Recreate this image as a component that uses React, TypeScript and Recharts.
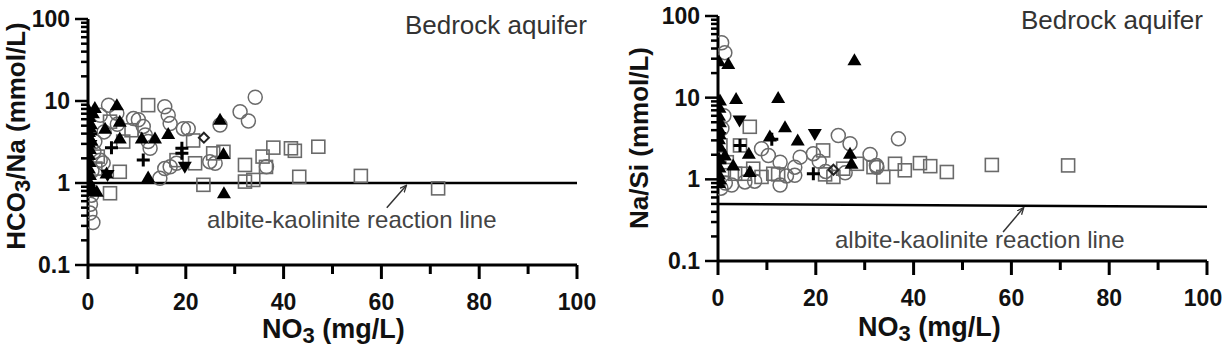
import { ScatterChart, Scatter, XAxis, YAxis, ReferenceLine } from "recharts";

type Pt = { x: number; y: number };
const pts = (a: number[][]): Pt[] => a.map(([x, y]) => ({ x, y }));

// tick values
const xTicks = [0, 10, 20, 30, 40, 50, 60, 70, 80, 90, 100];
const xMajor = [0, 20, 40, 60, 80, 100];
const yTicks = [
  0.1, 0.2, 0.3, 0.4, 0.5, 0.6, 0.7, 0.8, 0.9, 1, 2, 3, 4, 5, 6, 7, 8, 9, 10, 20,
  30, 40, 50, 60, 70, 80, 90, 100,
];
const yMajor = [0.1, 1, 10, 100];

// left panel: HCO3/Na vs NO3
const leftCircles = pts([
  [34.2, 11.1], [31.1, 7.4], [32.8, 5.7], [27, 5.1], [15.7, 8.5], [16.4, 6.7], [16.8, 5.3],
  [9.3, 6.1], [10.3, 5.9], [19.5, 4.6], [20.5, 4.6], [4.2, 8.9], [11.7, 3.85], [12.3, 3.2],
  [12.7, 2.65], [11.3, 4.9], [14.7, 1.14], [15.7, 1.5], [16.8, 1.58], [18.1, 1.74],
  [24.9, 1.82], [26, 1.74], [36.5, 1.58], [2.5, 1.9], [3.1, 1.75], [1.4, 3.2], [0.4, 0.43],
  [1, 0.33], [0.75, 0.71], [5.9, 7.1], [2.5, 6.7], [3.3, 4.2], [1.2, 2.4], [0.8, 1.4],
  [0.5, 0.55], [6, 5.2],
]);
const leftSquares = pts([
  [12.3, 8.9], [8.9, 4.4], [6.5, 1.37], [4.5, 0.75], [7.2, 3.2], [21.5, 3.3], [21.9, 1.74],
  [23.6, 0.95], [25.6, 2.3], [27.7, 2.4], [32.1, 1.66], [32.1, 1.04], [33.8, 1.09],
  [35.7, 2.1], [36.4, 1.57], [37.9, 2.7], [41.5, 2.65], [42.3, 2.47], [47.1, 2.77],
  [43.2, 1.19], [55.8, 1.22], [71.6, 0.86], [18.1, 1.9], [4.5, 5.6], [2, 2.1], [1.5, 1.5],
]);
const leftTriUp = pts([
  [5.9, 8.9], [3.5, 4.6], [6.5, 5.6], [6.5, 3.5], [11, 3.5], [13.7, 3.5], [16.4, 3.96],
  [27, 5.9], [27.7, 2.26], [12.3, 1.17], [27.8, 0.75], [3.8, 1.31], [1.8, 0.78], [1.0, 7.1],
  [1.4, 8.2], [0.2, 7.6], [0.3, 6.4], [0.2, 5.5], [0.4, 4.8], [0.2, 4.2], [0.3, 3.6],
  [0.2, 3.1], [0.4, 2.6], [0.2, 2.2], [0.3, 1.8], [0.2, 1.5], [0.4, 1.25], [0.2, 1.05],
  [0.3, 0.88], [0.2, 0.8], [1.1, 0.82], [0.6, 5.2], [0.7, 3.3],
]);
const leftTriDown = pts([[19.8, 1.58], [4, 1.25], [0.3, 6.9], [0.5, 2.9]]);
const leftPlus = pts([[11.3, 1.91], [19.2, 2.65], [19.2, 2.3], [4.8, 2.7], [0.5, 4.0]]);
const leftDiamond = pts([[23.7, 3.57]]);
const leftReaction = pts([[0, 1], [100, 1]]);
const leftArrow = pts([[61.1, 0.5], [65, 0.92]]);

// right panel: Na/Si vs NO3
const rightCircles = pts([
  [0.75, 47], [1.4, 35.6], [24.6, 3.44], [27, 2.73], [36.9, 3.13], [31.1, 2.02], [8.9, 2.37],
  [10.3, 1.96], [12.7, 1.62], [15.7, 1.41], [15.7, 1.12], [19.5, 2.06], [12.7, 0.85],
  [2.8, 0.85], [5.5, 0.93], [32.5, 1.41], [16.8, 1.87], [32.4, 1.48], [20.7, 1.66],
  [1.2, 6.0], [0.8, 4.2], [0.5, 2.0], [0.6, 0.78], [1.5, 0.9], [7.5, 0.95], [14, 1.1],
  [22, 1.25], [26, 1.2],
]);
const rightSquares = pts([
  [6.5, 4.4], [21.5, 2.26], [4.5, 2.6], [28.4, 1.55], [36.2, 1.55], [38.2, 1.29],
  [31.8, 1.41], [33.8, 1.07], [41.3, 1.58], [43.4, 1.45], [46.8, 1.23], [11.3, 1.17],
  [12.3, 1.15], [8.9, 1.07], [21.9, 1.15], [23.6, 1.07], [25.6, 1.35], [7.2, 1.35],
  [5.5, 1.17], [1.8, 1.62], [3.5, 1.17], [56, 1.5], [71.6, 1.48], [1.2, 1.3], [0.5, 2.6],
]);
const rightTriUp = pts([
  [27.9, 28.8], [2.1, 25.8], [3.7, 9.6], [12.3, 9.9], [13.7, 4.35], [10.6, 3.35],
  [16.3, 2.99], [27, 2.06], [27.3, 1.55], [6.3, 2.06], [6.5, 1.23], [3.1, 1.48], [1.4, 1.96],
  [0.4, 9.2], [0.2, 28], [0.3, 7.5], [0.2, 6], [0.4, 5], [0.2, 4.2], [0.3, 3.6], [0.2, 3.1],
  [0.4, 2.5], [0.2, 1.8], [0.3, 1.4], [0.2, 1.15], [0.4, 1.0], [0.2, 0.9],
]);
const rightTriDown = pts([[4.4, 5.25], [19.8, 3.6], [0.3, 3.3]]);
const rightPlus = pts([[4.5, 2.6], [19.5, 1.17], [11, 3.1], [0.4, 1.6]]);
const rightDiamond = pts([[23.6, 1.31]]);
const rightReaction = pts([[0, 0.5], [100, 0.46]]);
const rightArrow = pts([[58.3, 0.226], [62.4, 0.443]]);

const FONT = "'Liberation Sans', Arial, Helvetica, sans-serif";
const GRAY = "#6a6a6a";

const openCircle = (p: any) => (
  <circle cx={p.cx} cy={p.cy} r={7} fill="none" stroke={GRAY} strokeWidth={1.5} />
);
const openSquare = (p: any) => (
  <rect x={p.cx - 6.5} y={p.cy - 6.5} width={13} height={13} fill="none" stroke={GRAY} strokeWidth={1.6} />
);
const triUp = (p: any) => (
  <path d={`M${p.cx},${p.cy - 7}L${p.cx + 7},${p.cy + 5}L${p.cx - 7},${p.cy + 5}Z`} fill="#000" />
);
const triDown = (p: any) => (
  <path d={`M${p.cx},${p.cy + 7}L${p.cx + 7},${p.cy - 5}L${p.cx - 7},${p.cy - 5}Z`} fill="#000" />
);
const plus = (p: any) => (
  <path d={`M${p.cx - 6.5},${p.cy}H${p.cx + 6.5}M${p.cx},${p.cy - 6.5}V${p.cy + 6.5}`} stroke="#000" strokeWidth={3} />
);
const diamond = (p: any) => (
  <path d={`M${p.cx},${p.cy - 5}L${p.cx + 5},${p.cy}L${p.cx},${p.cy + 5}L${p.cx - 5},${p.cy}Z`} fill="none" stroke="#222" strokeWidth={2} />
);

const makeXTick = (lastShift: number) => (props: any) => {
  const { x, y, payload } = props;
  const major = xMajor.includes(payload.value);
  const shift = payload.value === 100 ? lastShift : 0;
  return (
    <g>
      <line x1={x} x2={x} y1={y} y2={y + (major ? 14 : 9)} stroke="#000" strokeWidth={3} />
      {major && (
        <text x={x + shift} y={y + 45} textAnchor="middle" fontFamily={FONT} fontWeight="bold" fontSize={23} fill="#111">
          {payload.value}
        </text>
      )}
    </g>
  );
};

const YTick = (props: any) => {
  const { x, y, payload } = props;
  const major = yMajor.includes(payload.value);
  return (
    <g>
      <line x1={x} x2={x - (major ? 13 : 7)} y1={y} y2={y} stroke="#000" strokeWidth={2.5} />
      {major && (
        <text x={x - 18} y={y + 8} textAnchor="end" fontFamily={FONT} fontWeight="bold" fontSize={23} fill="#111">
          {payload.value}
        </text>
      )}
    </g>
  );
};

type PanelProps = {
  width: number;
  yWidth: number;
  top: number;
  right: number;
  xHeight: number;
  lastShift: number;
  circles: Pt[];
  squares: Pt[];
  up: Pt[];
  down: Pt[];
  crosses: Pt[];
  diamonds: Pt[];
  reaction: Pt[];
  arrow: Pt[];
  yLabel: [string, string, string];
  yLabelX: number;
  yLabelY: number;
  xLabelX: number;
  xLabelY: number;
  titleX: number;
  titleY: number;
  noteX: number;
  noteY: number;
  id: string;
};

function Panel(p: PanelProps) {
  return (
    <ScatterChart
      width={p.width}
      height={350}
      margin={{ top: p.top, right: p.right, left: 0, bottom: 0 }}
    >
      <defs>
        <marker id={`arr-${p.id}`} markerWidth="8" markerHeight="8" refX="6" refY="3" orient="auto" markerUnits="userSpaceOnUse">
          <path d="M0,0 L7,3 L0,6" fill="none" stroke="#333" strokeWidth={1.3} />
        </marker>
      </defs>
      <XAxis
        type="number"
        dataKey="x"
        domain={[0, 100]}
        ticks={xTicks}
        interval={0}
        height={p.xHeight}
        tickSize={0}
        tickMargin={0}
        tickLine={false}
        tick={makeXTick(p.lastShift)}
        axisLine={{ stroke: "#000", strokeWidth: 3 }}
        allowDataOverflow
      />
      <YAxis
        type="number"
        dataKey="y"
        scale="log"
        domain={[0.1, 100]}
        ticks={yTicks}
        interval={0}
        width={p.yWidth}
        tickSize={0}
        tickMargin={0}
        tickLine={false}
        tick={YTick}
        axisLine={{ stroke: "#000", strokeWidth: 3 }}
        allowDataOverflow
      />
      <ReferenceLine
        segment={p.reaction}
        stroke="#000"
        strokeWidth={2.5}
        ifOverflow="visible"
      />
      <ReferenceLine
        segment={p.arrow}
        stroke="#333"
        strokeWidth={1.5}
        markerEnd={`url(#arr-${p.id})`}
        ifOverflow="visible"
      />
      <Scatter data={p.circles} shape={openCircle} isAnimationActive={false} />
      <Scatter data={p.squares} shape={openSquare} isAnimationActive={false} />
      <Scatter data={p.diamonds} shape={diamond} isAnimationActive={false} />
      <Scatter data={p.up} shape={triUp} isAnimationActive={false} />
      <Scatter data={p.down} shape={triDown} isAnimationActive={false} />
      <Scatter data={p.crosses} shape={plus} isAnimationActive={false} />
      <text x={p.titleX} y={p.titleY} textAnchor="end" fontFamily={FONT} fontSize={26} fill="#333">
        Bedrock aquifer
      </text>
      <text x={p.noteX} y={p.noteY} fontFamily={FONT} fontSize={24} fill="#444">
        albite-kaolinite reaction line
      </text>
      <text x={p.xLabelX} y={p.xLabelY} fontFamily={FONT} fontWeight="bold" fontSize={27} fill="#111">
        NO<tspan fontSize={22} dy={5}>3</tspan>
        <tspan dy={-5}> (mg/L)</tspan>
      </text>
      <text
        x={p.yLabelX}
        y={p.yLabelY}
        transform={`rotate(-90 ${p.yLabelX} ${p.yLabelY})`}
        textAnchor="middle"
        fontFamily={FONT}
        fontWeight="bold"
        fontSize={26}
        fill="#111"
      >
        {p.yLabel[0]}
        {p.yLabel[1] && (
          <tspan fontSize={22} dy={5}>
            {p.yLabel[1]}
          </tspan>
        )}
        <tspan dy={p.yLabel[1] ? -5 : 0}>{p.yLabel[2]}</tspan>
      </text>
    </ScatterChart>
  );
}

export default function App() {
  return (
    <div
      style={{
        position: "absolute",
        left: 0,
        top: 0,
        width: 1223,
        height: 350,
        background: "#fff",
        display: "flex",
      }}
    >
      <Panel
        id="l"
        width={611}
        yWidth={88}
        top={19}
        right={34}
        xHeight={85}
        lastShift={0}
        circles={leftCircles}
        squares={leftSquares}
        up={leftTriUp}
        down={leftTriDown}
        crosses={leftPlus}
        diamonds={leftDiamond}
        reaction={leftReaction}
        arrow={leftArrow}
        yLabel={["HCO", "3", "/Na (mmol/L)"]}
        yLabelX={25}
        yLabelY={136}
        xLabelX={262}
        xLabelY={338}
        titleX={587}
        titleY={34}
        noteX={207}
        noteY={228}
      />
      <Panel
        id="r"
        width={612}
        yWidth={107}
        top={16}
        right={16}
        xHeight={89}
        lastShift={-4}
        circles={rightCircles}
        squares={rightSquares}
        up={rightTriUp}
        down={rightTriDown}
        crosses={rightPlus}
        diamonds={rightDiamond}
        reaction={rightReaction}
        arrow={rightArrow}
        yLabel={["Na/Si (mmol/L)", "", ""]}
        yLabelX={37}
        yLabelY={138}
        xLabelX={247}
        xLabelY={336}
        titleX={592}
        titleY={29}
        noteX={224}
        noteY={248}
      />
    </div>
  );
}
